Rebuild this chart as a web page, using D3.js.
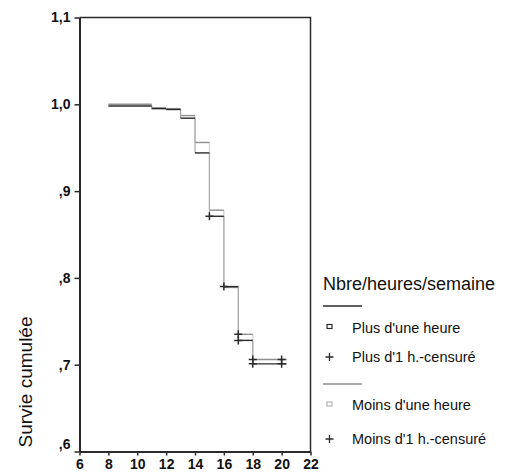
<!DOCTYPE html>
<html>
<head>
<meta charset="utf-8">
<script src="https://cdn.jsdelivr.net/npm/d3@7"></script>
<style>
  body { margin: 0; background: #fff; }
  text { font-family: "Liberation Sans", Arial, sans-serif; fill: #111; }
</style>
</head>
<body>
<svg width="516" height="475"></svg>
<script>
// Kaplan-Meier curves
const plusTimes = [8, 11, 12, 13, 14, 15, 16, 17, 18];
const plusSurv = [0.998, 0.995, 0.994, 0.984, 0.944, 0.871, 0.790, 0.728, 0.701];
const moinsTimes = [8, 11, 12, 13, 14, 15, 16, 17, 18];
const moinsSurv = [1.0, 0.996, 0.995, 0.987, 0.956, 0.878, 0.789, 0.735, 0.706];
const endTime = 20.35;
const plusCensored = [15, 16, 17, 18, 20];
const moinsCensored = [17, 18, 20];

const xTicks = [6, 8, 10, 12, 14, 16, 18, 20, 22];
const yTicks = [1.1, 1.0, 0.9, 0.8, 0.7, 0.6];
const yTickLabels = ['1,1', '1,0', ',9', ',8', ',7', ',6'];

const legendTitle = 'Nbre/heures/semaine';
const legendLabels = ["Plus d'une heure", "Plus d'1 h.-censuré", "Moins d'une heure", "Moins d'1 h.-censuré"];

const svg = d3.select('svg');

const mLeft = 79.5, mRight = 310.5, mTop = 17.5, mBottom = 451.5;

const x = d3.scaleLinear().domain([6, 22]).range([mLeft, mRight]);
const y = d3.scaleLinear().domain([0.6, 1.1]).range([mBottom, mTop]);

const dark = '#2a2a2a';
const grey = '#8f8f8f';

// frame (top + right)
svg.append('path')
    .attr('d', `M${mLeft},${mTop}H${mRight}V${mBottom}`)
    .attr('fill', 'none')
    .attr('stroke', dark)
    .attr('stroke-width', 1.5);

// axes
const xAxis = svg.append('g')
    .attr('transform', `translate(0, ${mBottom})`)
    .call(d3.axisBottom(x).tickValues(xTicks).tickSize(4).tickSizeOuter(0).tickPadding(4));

const yAxis = svg.append('g')
    .attr('transform', `translate(${mLeft}, 0)`)
    .call(d3.axisLeft(y).tickValues(yTicks).tickSize(5).tickSizeOuter(0).tickPadding(4)
        .tickFormat((d, i) => yTickLabels[i]));

[xAxis, yAxis].forEach(a => {
    a.select('.domain').attr('stroke', dark).attr('stroke-width', 2);
    a.selectAll('line').attr('stroke', dark).attr('stroke-width', 1.5);
    a.selectAll('text').attr('font-size', 14).attr('font-weight', 'bold').attr('fill', '#1a1a1a')
        .attr('font-family', '"Liberation Sans", Arial, sans-serif');
});
// the bottom label sits a bit higher in the original
yAxis.selectAll('.tick text').filter(d => d === 0.6).attr('dy', '-0.2em');

// y title
svg.append('text')
    .attr('transform', 'translate(32, 382) rotate(-90)')
    .attr('text-anchor', 'middle')
    .attr('font-size', 19)
    .text('Survie cumulée');

// step curves: horizontal runs drawn in the curve colour, drops fainter
function runs(times, surv) {
    return times.map((t, i) => ({ t0: t, t1: i < times.length - 1 ? times[i + 1] : endTime, v: surv[i] }));
}
function drops(times, surv) {
    return times.slice(1).map((t, i) => ({ t: t, v0: surv[i], v1: surv[i + 1] }));
}

function survAt(times, surv, t) {
    let v = surv[0];
    times.forEach((tt, i) => { if (tt <= t) v = surv[i]; });
    return v;
}

function drawCurve(times, surv, color, dropColor) {
    const g = svg.append('g').attr('fill', 'none');
    g.selectAll('line.drop')
        .data(drops(times, surv))
        .join('line')
        .attr('class', 'drop')
        .attr('x1', d => x(d.t)).attr('x2', d => x(d.t))
        .attr('y1', d => y(d.v0)).attr('y2', d => y(d.v1))
        .attr('stroke', dropColor)
        .attr('stroke-width', 1.2);
    g.selectAll('line.run')
        .data(runs(times, surv))
        .join('line')
        .attr('class', 'run')
        .attr('x1', d => x(d.t0)).attr('x2', d => x(d.t1))
        .attr('y1', d => y(d.v)).attr('y2', d => y(d.v))
        .attr('stroke', color)
        .attr('stroke-width', 1.4);
}

drawCurve(moinsTimes, moinsSurv, grey, '#cfcfcf');
drawCurve(plusTimes, plusSurv, dark, '#a8a8a8');

function drawCensors(times, surv, cens, color) {
    svg.append('g').selectAll('path')
        .data(cens)
        .join('path')
        .attr('d', d => {
            const cx = x(d), cy = y(survAt(times, surv, d));
            return `M${cx - 4},${cy}H${cx + 4}M${cx},${cy - 4}V${cy + 4}`;
        })
        .attr('stroke', color)
        .attr('stroke-width', 1.5);
}
drawCensors(moinsTimes, moinsSurv, moinsCensored, dark);
drawCensors(plusTimes, plusSurv, plusCensored, dark);

// legend
const lg = svg.append('g').attr('transform', 'translate(323, 0)');

lg.append('text')
    .attr('x', 0).attr('y', 290)
    .attr('font-size', 18)
    .text(legendTitle);

const legendRows = [
    { y: 306, kind: 'line', color: dark },
    { y: 327.5, kind: 'square', color: dark, label: legendLabels[0] },
    { y: 357, kind: 'plus', color: dark, label: legendLabels[1] },
    { y: 384, kind: 'line', color: grey },
    { y: 405, kind: 'square', color: '#b5b5b5', label: legendLabels[2] },
    { y: 439, kind: 'plus', color: dark, label: legendLabels[3] }
];

legendRows.forEach(r => {
    if (r.kind === 'line') {
        lg.append('line')
            .attr('x1', 0).attr('x2', 39)
            .attr('y1', r.y).attr('y2', r.y)
            .attr('stroke', r.color).attr('stroke-width', 1.3);
        return;
    }
    if (r.kind === 'square') {
        lg.append('rect')
            .attr('x', 4).attr('y', r.y - 3)
            .attr('width', 5).attr('height', 4)
            .attr('fill', 'none')
            .attr('stroke', r.color).attr('stroke-width', 1.2);
    } else {
        lg.append('path')
            .attr('d', `M${2.5},${r.y}H${10.5}M${6.5},${r.y - 4}V${r.y + 4}`)
            .attr('stroke', r.color).attr('stroke-width', 1.3);
    }
    lg.append('text')
        .attr('x', 29).attr('y', r.y)
        .attr('dy', '0.36em')
        .attr('font-size', 14.5)
        .text(r.label);
});
</script>
</body>
</html>
